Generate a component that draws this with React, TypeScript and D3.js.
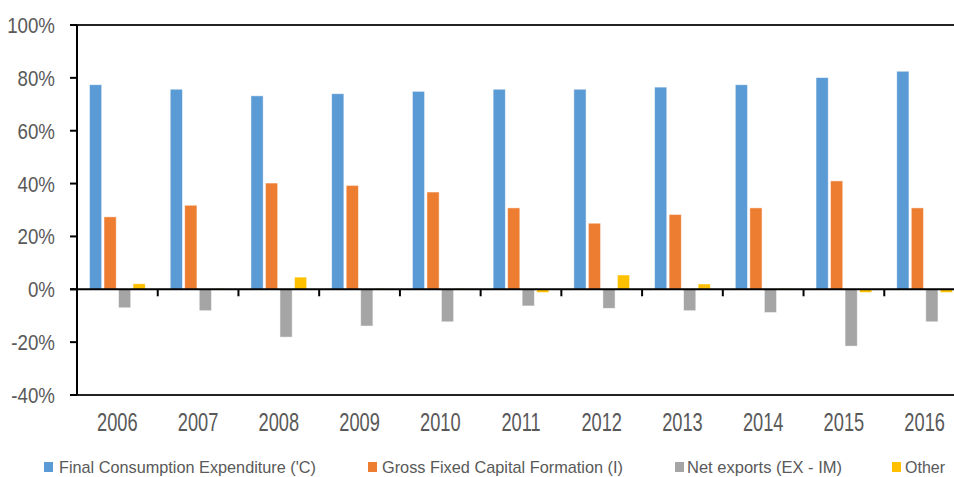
import React from "react";
import * as d3 from "d3";

const years = ["2006","2007","2008","2009","2010","2011","2012","2013","2014","2015","2016"];
const seriesNames = ["Final Consumption Expenditure ('C)", "Gross Fixed Capital Formation (I)", "Net exports (EX - IM)", "Other"];
const consumption = [77.4, 75.7, 73.2, 74.0, 74.9, 75.7, 75.7, 76.5, 77.4, 80.1, 82.5];
const investment = [27.4, 31.8, 40.2, 39.3, 36.8, 30.8, 25.0, 28.3, 30.8, 41.0, 30.8];
const netExports = [-7.0, -8.1, -18.1, -13.9, -12.3, -6.3, -7.2, -8.1, -8.8, -21.5, -12.3];
const other = [2.1, 0.3, 4.6, 0.3, 0.3, -1.2, 5.4, 2.0, 0.3, -1.2, -1.2];
const yTicks = [-40, -20, 0, 20, 40, 60, 80, 100];
const colors = ["#5B9BD5", "#ED7D31", "#A5A5A5", "#FFC000"];

const seriesValues = [consumption, investment, netExports, other];

export default function App() {
  const W = 954, H = 477;
  const left = 77, right = 965, top = 25, bottom = 395;
  const y = d3.scaleLinear().domain([-40, 100]).range([bottom, top]);
  const x0 = d3.scaleBand<string>().domain(years).range([left, right]).paddingInner(0);
  const bw = x0.bandwidth();
  const x1 = d3.scaleBand<number>().domain([0, 1, 2, 3]).range([12.5, bw - 12.5]).paddingInner(0.16);
  const font = "'Liberation Sans', Arial, sans-serif";
  const legendItems = [
    { sx: 44, tx: 59, tw: 257 },
    { sx: 368, tx: 382, tw: 241 },
    { sx: 675, tx: 687, tw: 155 },
    { sx: 892, tx: 905, tw: 40 },
  ];
  return (
    <svg width={W} height={H} style={{ position: "absolute", left: 0, top: 0, background: "#fff" }} fontFamily={font}>
      {/* bars */}
      {years.map((yr, i) => (
        <g key={yr} transform={`translate(${x0(yr)},0)`}>
          {seriesValues.map((vals, s) => {
            const v = vals[i];
            const y0 = y(0), yv = y(v);
            return (
              <rect key={s} x={x1(s)} width={x1.bandwidth()} y={Math.min(y0, yv)} height={Math.abs(yv - y0)}
                fill={colors[s]} stroke="#fff" strokeOpacity={0.6} strokeWidth={0.8} />
            );
          })}
        </g>
      ))}
      {/* top and bottom borders */}
      <line x1={70} x2={W} y1={y(100)} y2={y(100)} stroke="#222" strokeWidth={2} />
      <line x1={70} x2={W} y1={y(-40)} y2={y(-40)} stroke="#222" strokeWidth={2} />
      {/* zero line */}
      <line x1={70} x2={W} y1={y(0)} y2={y(0)} stroke="#000" strokeWidth={2} />
      {/* category ticks */}
      {years.slice(1).map((yr) => (
        <line key={yr} x1={x0(yr)} x2={x0(yr)} y1={y(0)} y2={y(0) + 7} stroke="#000" strokeWidth={2} />
      ))}
      {/* y axis */}
      <line x1={left} x2={left} y1={top} y2={bottom} stroke="#000" strokeWidth={2} />
      {yTicks.map((t) => (
        <g key={t}>
          <line x1={70} x2={left} y1={y(t)} y2={y(t)} stroke="#000" strokeWidth={2} />
          <text transform={`translate(55,${y(t) + 8}) scale(0.85,1)`} textAnchor="end" fontSize={22} fill="#595959">{t}%</text>
        </g>
      ))}
      {/* x labels */}
      {years.map((yr) => (
        <text key={yr} transform={`translate(${(x0(yr) as number) + bw / 2},431) scale(0.73,1)`} textAnchor="middle" fontSize={25} fill="#595959">{yr}</text>
      ))}
      {/* legend */}
      {legendItems.map((it, i) => (
        <g key={i}>
          <rect x={it.sx} y={462} width={9} height={10} fill={colors[i]} />
          <text x={it.tx} y={473} fontSize={17} fill="#595959" textLength={it.tw} lengthAdjust="spacingAndGlyphs">{seriesNames[i]}</text>
        </g>
      ))}
    </svg>
  );
}
